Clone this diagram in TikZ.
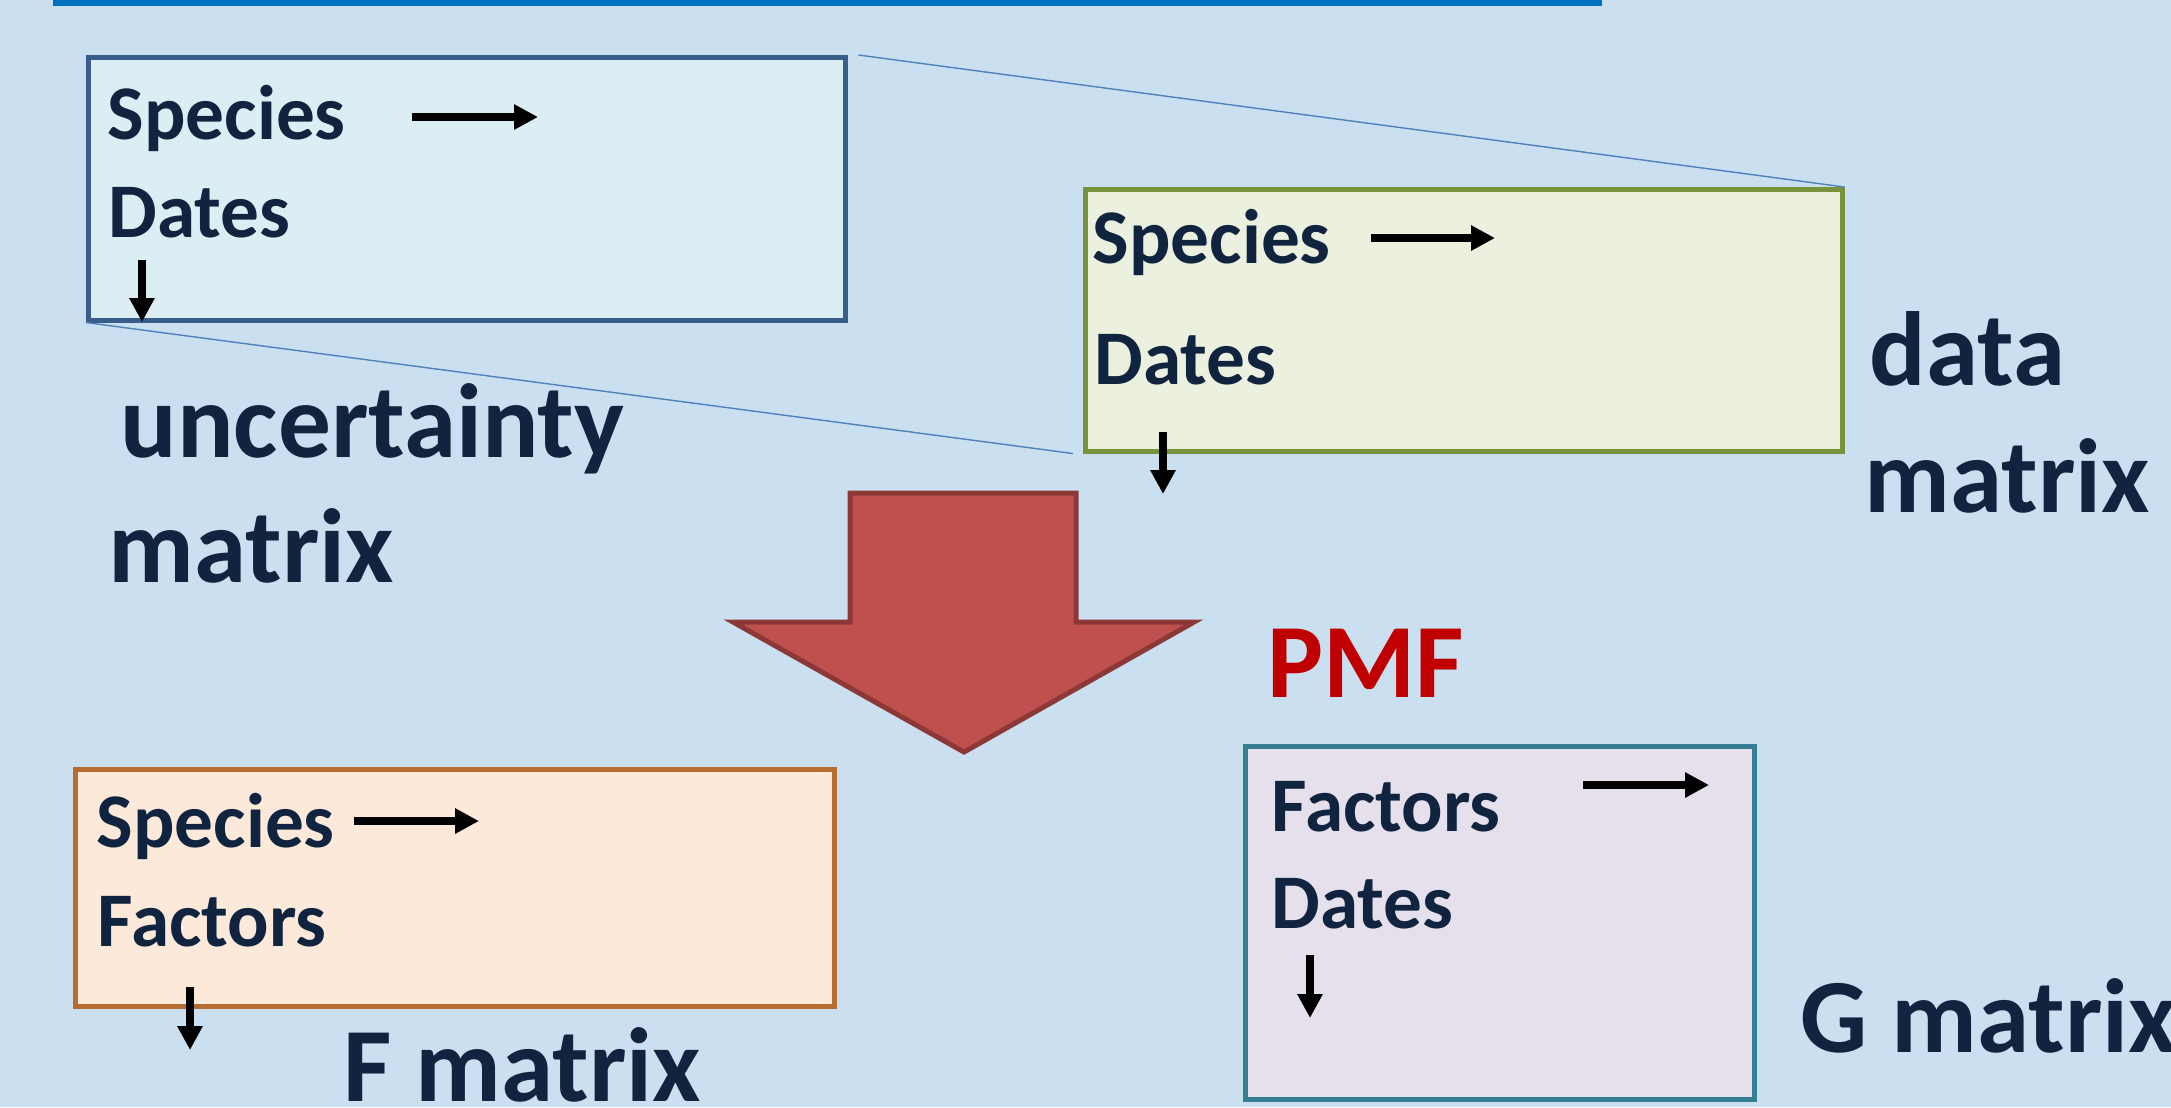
\documentclass[tikz,border=0pt]{standalone}
\usepackage{fontspec}
\setmainfont{Carlito}
\usetikzlibrary{arrows.meta}
\definecolor{bgblue}{RGB}{202,224,240}
\definecolor{barblue}{RGB}{0,112,192}
\definecolor{linkblue}{RGB}{79,129,189}
\definecolor{txtnavy}{RGB}{16,36,63}
\definecolor{uncfill}{RGB}{219,238,244}
\definecolor{uncdraw}{RGB}{56,93,138}
\definecolor{datfill}{RGB}{235,241,222}
\definecolor{datdraw}{RGB}{119,147,60}
\definecolor{ffill}{RGB}{253,233,217}
\definecolor{fdraw}{RGB}{182,109,49}
\definecolor{gfill}{RGB}{229,224,236}
\definecolor{gdraw}{RGB}{53,125,145}
\definecolor{pmfred}{RGB}{192,0,0}
\definecolor{arrfill}{RGB}{192,80,77}
\definecolor{arrdraw}{RGB}{140,56,54}

\begin{document}
\begin{tikzpicture}
  \tikzset{
  mbox/.style = {
  draw,
  line width = 0.045cm,
  inner sep = 0pt,
  anchor = north west},
  lbl/.style = {
  anchor = base west,
  inner sep = 0pt,
  text = txtnavy,
  font = \fontsize{22}{26}\selectfont\bfseries},
  biglbl/.style = {lbl, font = \fontsize{30}{36}\selectfont\bfseries},
  dirarrow/.style = {line width = 0.085cm, -{Triangle[length=0.24cm, width=0.24cm]}},
  zoomline/.style = {draw = linkblue, line width = 0.4pt}}
  \useasboundingbox[fill=bgblue] (0,0) rectangle (21.71,-11.07);
  \fill[barblue] (0.53,0) rectangle (16.02,-0.06);
  \node[mbox, draw=uncdraw, fill=uncfill, minimum width=7.57cm, minimum height=2.63cm] (unc) at (0.86,-0.55) {};
  \node[mbox, draw=datdraw, fill=datfill, minimum width=7.57cm, minimum height=2.62cm] (dat) at (10.83,-1.87) {};
  \node[mbox, draw=fdraw, fill=ffill, minimum width=7.59cm, minimum height=2.37cm] (fmat) at (0.73,-7.67) {};
  \node[mbox, draw=gdraw, fill=gfill, minimum width=5.09cm, minimum height=3.53cm] (gmat) at (12.43,-7.44) {};
  \draw[zoomline] ([xshift=0.11cm]unc.north east) -- (dat.north east);
  \draw[zoomline] (unc.south west) -- ([xshift=-0.1cm]dat.south west);
  \draw[fill=arrfill, draw=arrdraw, line width=0.05cm] (8.50,-4.93) -- (10.76,-4.93) -- (10.76,-6.22)
    -- (11.94,-6.22) -- (9.64,-7.52) -- (7.33,-6.22) -- (8.50,-6.22) -- cycle;
  \node[lbl] (uncsp) at (1.07,-1.39) {Species};
  \node[lbl] (uncdt) at (1.08,-2.37) {Dates};
  \node[biglbl] (uncl1) at (1.20,-4.57) {uncertainty};
  \node[biglbl] (uncl2) at (1.08,-5.82) {matrix};
  \node[lbl] (datsp) at (10.92,-2.63) {Species};
  \node[lbl] (datdt) at (10.94,-3.84) {Dates};
  \node[biglbl] (datl1) at (18.69,-3.85) {data};
  \node[biglbl] (datl2) at (18.64,-5.12) {matrix};
  \node[biglbl, text=pmfred] (pmf) at (12.67,-6.97) {PMF};
  \node[lbl] (fsp) at (0.96,-8.47) {Species};
  \node[lbl] (ffc) at (0.97,-9.46) {Factors};
  \node[biglbl] (fl) at (3.43,-11.01) {F matrix};
  \node[lbl] (gfc) at (12.71,-8.31) {Factors};
  \node[lbl] (gdt) at (12.71,-9.28) {Dates};
  \node[biglbl] (gl) at (18.00,-10.52) {G matrix};
  \coordinate (ua1) at (4.12,-1.17);  \coordinate (ua2) at (5.38,-1.17);
  \coordinate (ub1) at (1.42,-2.60);  \coordinate (ub2) at (1.42,-3.22);
  \coordinate (da1) at (13.71,-2.38); \coordinate (da2) at (14.95,-2.38);
  \coordinate (db1) at (11.63,-4.32); \coordinate (db2) at (11.63,-4.94);
  \coordinate (fa1) at (3.54,-8.21);  \coordinate (fa2) at (4.79,-8.21);
  \coordinate (fb1) at (1.90,-9.87);  \coordinate (fb2) at (1.90,-10.50);
  \coordinate (ga1) at (15.83,-7.85); \coordinate (ga2) at (17.09,-7.85);
  \coordinate (gb1) at (13.10,-9.55); \coordinate (gb2) at (13.10,-10.18);
  \foreach \a/\b in {ua1/ua2, ub1/ub2, da1/da2, db1/db2, fa1/fa2, fb1/fb2, ga1/ga2, gb1/gb2}
    \draw[dirarrow] (\a) -- (\b);
\end{tikzpicture}
\end{document}
